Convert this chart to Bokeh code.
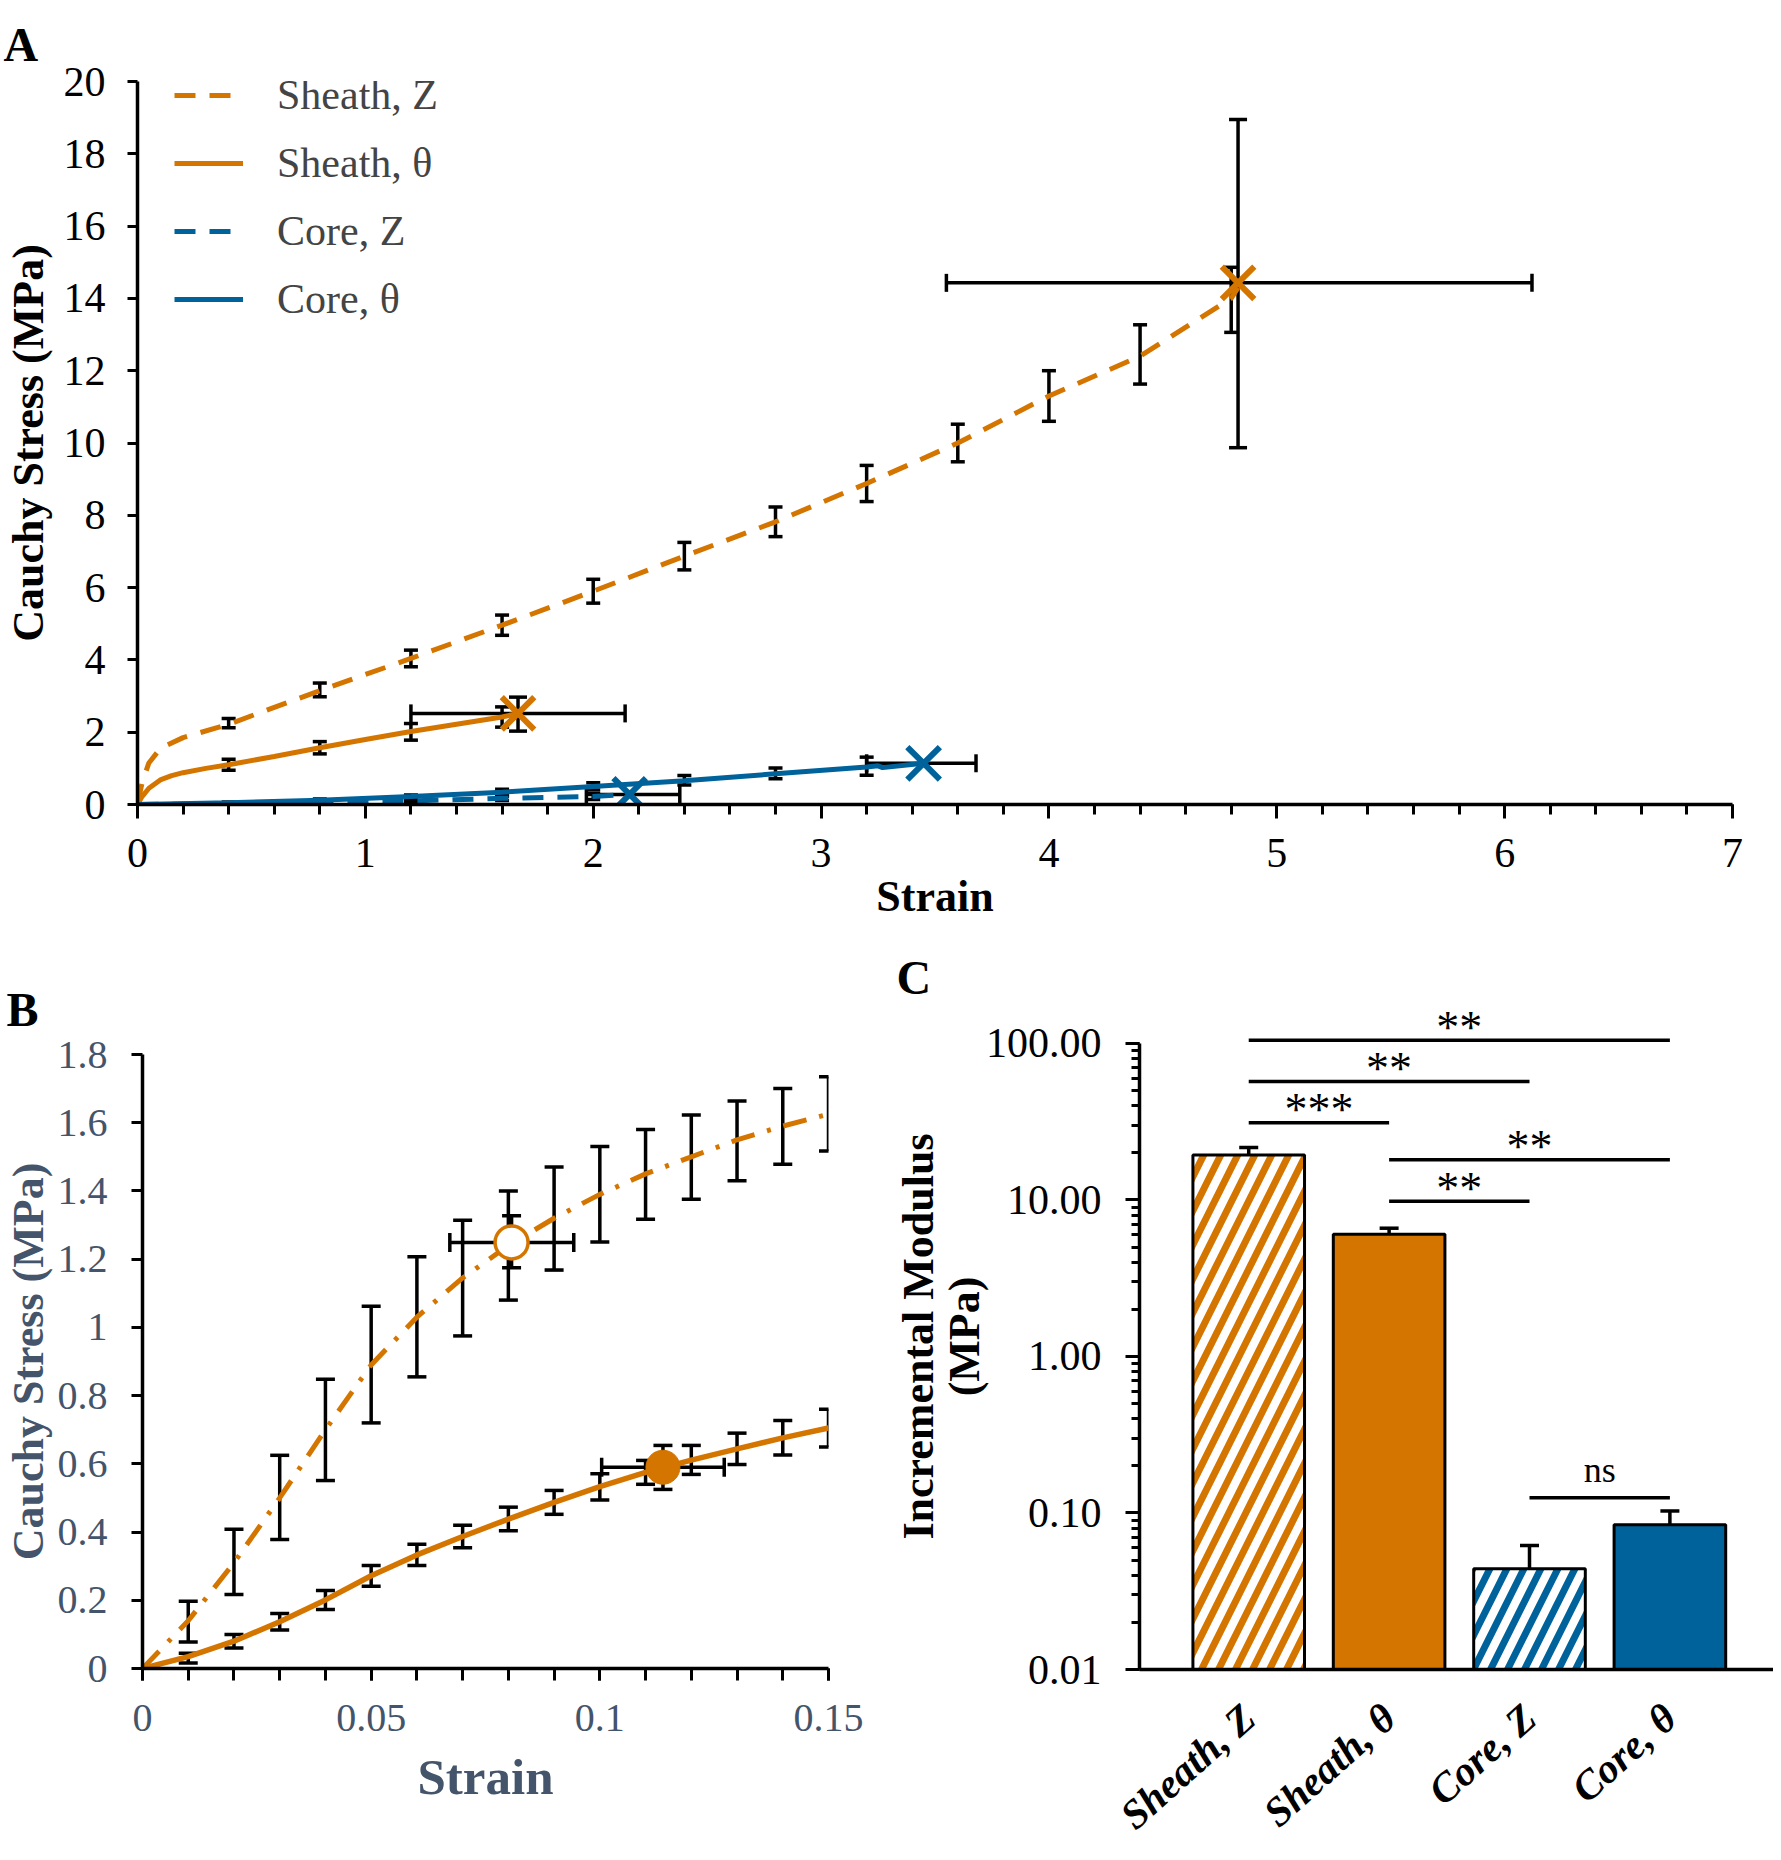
from bokeh.plotting import figure
from bokeh.models import (ColumnDataSource, Whisker, TeeHead, Legend, LegendItem, Title,
                          SingleIntervalTicker, FixedTicker, PrintfTickFormatter,
                          CustomJSTickFormatter)
from bokeh.layouts import column, row
from bokeh.embed import file_html
from bokeh.resources import INLINE
from bokeh.core.properties import value

ORANGE = "#D47500"
BLUE = "#00629B"
SLATE = "#44546A"
FONT = "Liberation Serif"

# ---------------- Panel A data ----------------
series_names = ["Sheath, Z", "Sheath, \u03b8", "Core, Z", "Core, \u03b8"]

sz_strain = [0, 0.02, 0.05, 0.1, 0.2, 0.4, 0.8, 1.2, 1.6, 2.0, 2.4, 2.8, 3.2, 3.6, 4.0, 4.4, 4.8, 4.83]
sz_stress = [0, 0.6, 1.15, 1.55, 1.85, 2.22, 3.15, 4.04, 4.96, 5.9, 6.87, 7.82, 8.88, 10.0, 11.3, 12.4, 14.0, 14.3]
sz_bar_x = [0.4, 0.8, 1.2, 1.6, 2.0, 2.4, 2.8, 3.2, 3.6, 4.0, 4.4, 4.8]
sz_bar_mean = [2.25, 3.17, 4.04, 4.96, 5.9, 6.87, 7.82, 8.88, 10.0, 11.3, 12.45, 13.96]
sz_bar_sd = [0.13, 0.19, 0.23, 0.28, 0.33, 0.38, 0.41, 0.5, 0.52, 0.7, 0.82, 0.9]
sz_end = (4.83, 14.43)
sz_end_xerr = (3.55, 6.12)
sz_end_yerr = (9.87, 18.95)

st_strain = [0, 0.02, 0.05, 0.1, 0.15, 0.2, 0.3, 0.4, 0.6, 0.8, 1.0, 1.2, 1.4, 1.6, 1.67]
st_stress = [0, 0.22, 0.45, 0.68, 0.8, 0.88, 1.0, 1.1, 1.33, 1.57, 1.8, 2.02, 2.22, 2.42, 2.52]
st_bar_x = [0.4, 0.8, 1.2, 1.6]
st_bar_mean = [1.1, 1.57, 2.01, 2.42]
st_bar_sd = [0.15, 0.17, 0.23, 0.28]
st_end = (1.67, 2.52)
st_end_xerr = (1.2, 2.14)
st_end_yerr = (2.03, 2.97)

cz_strain = [0, 0.4, 0.8, 1.2, 1.6, 2.0, 2.16]
cz_stress = [0, 0.02, 0.05, 0.1, 0.17, 0.22, 0.28]
cz_bar_x = [0.4, 0.8, 1.2, 1.6, 2.0]
cz_bar_mean = [0.02, 0.05, 0.1, 0.17, 0.22]
cz_bar_sd = [0.02, 0.03, 0.04, 0.06, 0.08]
cz_end = (2.16, 0.28)
cz_end_xerr = (1.97, 2.38)

ct_strain = [0, 0.4, 0.8, 1.2, 1.6, 2.0, 2.4, 2.8, 3.2, 3.25, 3.27, 3.45]
ct_stress = [0, 0.05, 0.12, 0.22, 0.34, 0.5, 0.66, 0.85, 1.04, 1.07, 1.02, 1.14]
ct_bar_x = [0.4, 0.8, 1.2, 1.6, 2.0, 2.4, 2.8, 3.2]
ct_bar_mean = [0.05, 0.12, 0.22, 0.34, 0.5, 0.67, 0.86, 1.06]
ct_bar_sd = [0.02, 0.03, 0.04, 0.08, 0.1, 0.13, 0.15, 0.25]
ct_end = (3.45, 1.14)
ct_end_xerr = (3.2, 3.68)

# ---------------- Panel B data ----------------
b_strain = [0, 0.01, 0.02, 0.03, 0.04, 0.05, 0.06, 0.07, 0.08, 0.09, 0.10, 0.11, 0.12, 0.13, 0.14, 0.15]
bz_mean = [0, 0.14, 0.31, 0.5, 0.7, 0.89, 1.03, 1.145, 1.24, 1.32, 1.39, 1.45, 1.50, 1.55, 1.59, 1.625]
bz_upper = [0, 0.197, 0.408, 0.625, 0.848, 1.062, 1.207, 1.314, 1.40, 1.47, 1.53, 1.58, 1.623, 1.664, 1.70, 1.735]
bz_lower = [0, 0.078, 0.217, 0.378, 0.551, 0.72, 0.855, 0.975, 1.08, 1.168, 1.25, 1.317, 1.376, 1.43, 1.478, 1.517]
bt_mean = [0, 0.035, 0.08, 0.137, 0.201, 0.272, 0.333, 0.387, 0.438, 0.487, 0.533, 0.575, 0.611, 0.644, 0.676, 0.705]
bt_upper = [0, 0.045, 0.1, 0.161, 0.229, 0.302, 0.364, 0.42, 0.473, 0.522, 0.571, 0.61, 0.654, 0.69, 0.727, 0.76]
bt_lower = [0, 0.016, 0.06, 0.113, 0.173, 0.241, 0.302, 0.354, 0.404, 0.452, 0.494, 0.54, 0.569, 0.598, 0.626, 0.649]
bz_point = (0.0807, 1.249)
bz_point_xerr = (0.0672, 0.0943)
bz_point_yerr = (1.175, 1.327)
bt_point = (0.1138, 0.590)
bt_point_xerr = (0.1004, 0.1272)
bt_point_yerr = (0.525, 0.654)

# ---------------- Panel C data ----------------
categories = ["Sheath, Z", "Sheath, \u03b8", "Core, Z", "Core, \u03b8"]
modulus = [19.4, 6.03, 0.044, 0.084]
modulus_upper = [21.6, 6.6, 0.062, 0.103]
modulus_lower = [17.4, 5.6, 0.0275, 0.0645]
sig_start = [0, 0, 0, 1, 1, 2]
sig_end = [3, 2, 1, 3, 2, 3]
sig_level = [105, 57.2, 31.1, 18.1, 9.83, 0.125]
sig_text = ["**", "**", "***", "**", "**", "ns"]

panel_letters = ["A", "B", "C"]

# ---------------- helpers ----------------
def style(p, color="black", tick_size="42px"):
    p.outline_line_color = None
    p.xgrid.visible = False
    p.ygrid.visible = False
    p.background_fill_color = "white"
    for ax in p.axis:
        ax.axis_line_width = 3.5
        ax.axis_line_color = "black"
        ax.major_tick_line_width = 3
        ax.minor_tick_line_width = 3
        ax.major_tick_line_color = "black"
        ax.minor_tick_line_color = "black"
        ax.major_tick_in = 0
        ax.minor_tick_in = 0
        ax.major_label_text_font = FONT
        ax.major_label_text_font_size = tick_size
        ax.major_label_text_color = color
        ax.axis_label_text_font = FONT
        ax.axis_label_text_font_style = "bold"
        ax.axis_label_text_color = color


def letter(p, text, offset, standoff):
    p.title = Title(text=text, align="left", offset=offset, standoff=standoff, text_font=FONT,
                    text_font_size="48px", text_font_style="bold", text_color="black")


def yerr(p, x, lo, hi, cap, width=3.5):
    src = ColumnDataSource(dict(b=list(x), lo=list(lo), hi=list(hi)))
    p.add_layout(Whisker(source=src, base="b", lower="lo", upper="hi", dimension="height",
                         line_width=width, line_color="black",
                         upper_head=TeeHead(size=cap, line_width=width, line_color="black"),
                         lower_head=TeeHead(size=cap, line_width=width, line_color="black")))


def xerr(p, y, lo, hi, cap, width=3.5):
    src = ColumnDataSource(dict(b=list(y), lo=list(lo), hi=list(hi)))
    p.add_layout(Whisker(source=src, base="b", lower="lo", upper="hi", dimension="width",
                         line_width=width, line_color="black",
                         upper_head=TeeHead(size=cap, line_width=width, line_color="black"),
                         lower_head=TeeHead(size=cap, line_width=width, line_color="black")))


def sym(mean, sd, sign):
    return [m + sign * s for m, s in zip(mean, sd)]


fmt_plain = CustomJSTickFormatter(code="return String(Math.round(tick*1000)/1000);")

# ---------------- Panel A ----------------
pA = figure(width=1773, height=923, x_range=(0, 7), y_range=(0, 20),
            output_backend="svg", toolbar_location=None, frame_align=False,
            min_border_left=136, min_border_right=41, min_border_top=81, min_border_bottom=118)
style(pA)
letter(pA, panel_letters[0], -134, 22)
pA.xaxis.ticker = SingleIntervalTicker(interval=1, num_minor_ticks=5)
pA.yaxis.ticker = SingleIntervalTicker(interval=2, num_minor_ticks=0)
pA.xaxis.major_tick_out = 14
pA.xaxis.minor_tick_out = 10
pA.yaxis.major_tick_out = 10
pA.xaxis.major_label_standoff = 20
pA.yaxis.major_label_standoff = 22
pA.xaxis.axis_label = "Strain"
pA.yaxis.axis_label = "Cauchy Stress (MPa)"
pA.xaxis.axis_label_text_font_size = "44px"
pA.yaxis.axis_label_text_font_size = "44px"
pA.xaxis.axis_label_standoff = 2
pA.yaxis.axis_label_standoff = 8

yerr(pA, sz_bar_x, sym(sz_bar_mean, sz_bar_sd, -1), sym(sz_bar_mean, sz_bar_sd, 1), 14)
yerr(pA, st_bar_x, sym(st_bar_mean, st_bar_sd, -1), sym(st_bar_mean, st_bar_sd, 1), 14)
yerr(pA, cz_bar_x, sym(cz_bar_mean, cz_bar_sd, -1), sym(cz_bar_mean, cz_bar_sd, 1), 14)
yerr(pA, ct_bar_x, sym(ct_bar_mean, ct_bar_sd, -1), sym(ct_bar_mean, ct_bar_sd, 1), 14)
yerr(pA, [sz_end[0]], [sz_end_yerr[0]], [sz_end_yerr[1]], 18)
yerr(pA, [st_end[0]], [st_end_yerr[0]], [st_end_yerr[1]], 18)
xerr(pA, [sz_end[1]], [sz_end_xerr[0]], [sz_end_xerr[1]], 18)
xerr(pA, [st_end[1]], [st_end_xerr[0]], [st_end_xerr[1]], 18)
xerr(pA, [cz_end[1]], [cz_end_xerr[0]], [cz_end_xerr[1]], 18)
xerr(pA, [ct_end[1]], [ct_end_xerr[0]], [ct_end_xerr[1]], 18)

r_sz = pA.line(sz_strain, sz_stress, line_color=ORANGE, line_width=5, line_dash="21 14")
r_st = pA.line(st_strain, st_stress, line_color=ORANGE, line_width=5)
r_cz = pA.line(cz_strain, cz_stress, line_color=BLUE, line_width=5, line_dash="21 14")
r_ct = pA.line(ct_strain, ct_stress, line_color=BLUE, line_width=5)
for pt, col in [(sz_end, ORANGE), (st_end, ORANGE), (cz_end, BLUE), (ct_end, BLUE)]:
    pA.scatter([pt[0]], [pt[1]], marker="x", size=46, line_width=6, line_color=col)

legend = Legend(items=[LegendItem(label=series_names[0], renderers=[r_sz]),
                       LegendItem(label=series_names[1], renderers=[r_st]),
                       LegendItem(label=series_names[2], renderers=[r_cz]),
                       LegendItem(label=series_names[3], renderers=[r_ct])],
                location=(37, 481), orientation="vertical",
                background_fill_alpha=0, border_line_color=None,
                label_text_font=FONT, label_text_font_size="42px",
                glyph_width=69, glyph_height=48, label_height=48, spacing=20,
                label_standoff=34, padding=0, margin=0)
pA.add_layout(legend)

# ---------------- Panel B ----------------
pB = figure(width=868, height=935, x_range=(0, 0.15), y_range=(0, 1.8),
            output_backend="svg", toolbar_location=None, frame_align=False,
            min_border_left=142, min_border_right=40, min_border_top=131, min_border_bottom=190)
style(pB, color=SLATE, tick_size="40px")
letter(pB, panel_letters[1], -136, 37)
pB.xaxis.ticker = FixedTicker(ticks=[0, 0.05, 0.1, 0.15], minor_ticks=[i / 100 for i in range(16)])
pB.yaxis.ticker = SingleIntervalTicker(interval=0.2, num_minor_ticks=0)
pB.xaxis.formatter = fmt_plain
pB.yaxis.formatter = fmt_plain
pB.xaxis.major_tick_out = 12
pB.xaxis.minor_tick_out = 12
pB.yaxis.major_tick_out = 11
pB.xaxis.major_label_standoff = 24
pB.yaxis.major_label_standoff = 24
pB.xaxis.axis_label = "Strain"
pB.yaxis.axis_label = "Cauchy Stress (MPa)"
pB.xaxis.axis_label_text_font_size = "51px"
pB.yaxis.axis_label_text_font_size = "44px"
pB.xaxis.axis_label_standoff = 15
pB.yaxis.axis_label_standoff = 2

yerr(pB, b_strain[1:], bz_lower[1:], bz_upper[1:], 19)
yerr(pB, b_strain[1:], bt_lower[1:], bt_upper[1:], 19)
yerr(pB, [bz_point[0]], [bz_point_yerr[0]], [bz_point_yerr[1]], 19)
yerr(pB, [bt_point[0]], [bt_point_yerr[0]], [bt_point_yerr[1]], 19)
xerr(pB, [bz_point[1]], [bz_point_xerr[0]], [bz_point_xerr[1]], 19)
xerr(pB, [bt_point[1]], [bt_point_xerr[0]], [bt_point_xerr[1]], 19)

pB.line(b_strain, bz_mean, line_color=ORANGE, line_width=5, line_dash="24 13 4 13")
pB.line(b_strain, bt_mean, line_color=ORANGE, line_width=5.5)
pB.scatter([bz_point[0]], [bz_point[1]], marker="circle", size=33, line_width=3.5,
           line_color=ORANGE, fill_color="white")
pB.scatter([bt_point[0]], [bt_point[1]], marker="circle", size=34, line_width=1,
           line_color=ORANGE, fill_color=ORANGE)

# ---------------- Panel C ----------------
positions = list(range(len(categories)))
pC = figure(width=905, height=935, x_range=(-0.778, 3.738), y_range=(0.01, 180),
            y_axis_type="log", output_backend="svg", toolbar_location=None, frame_align=False,
            min_border_left=271, min_border_right=0, min_border_top=80, min_border_bottom=188)
style(pC)
letter(pC, panel_letters[2], -243, 0)
pC.yaxis.formatter = PrintfTickFormatter(format="%.2f")
pC.yaxis.bounds = (0.01, 100)
pC.yaxis.major_tick_out = 14
pC.yaxis.minor_tick_out = 8
pC.yaxis.major_label_standoff = 24
pC.yaxis.axis_label = "Incremental Modulus\n(MPa)"
pC.yaxis.axis_label_text_font_size = "44px"
pC.yaxis.axis_label_text_line_height = 0.93
pC.yaxis.axis_label_standoff = -6
pC.xaxis.ticker = FixedTicker(ticks=positions)
pC.xaxis.major_label_overrides = {i: c for i, c in zip(positions, categories)}
pC.xaxis.major_tick_out = 0
pC.xaxis.minor_tick_out = 0
pC.xaxis.major_label_orientation = 0.73
pC.xaxis.major_label_standoff = 42
pC.xaxis.major_label_text_font_style = "bold italic"
pC.xaxis.major_label_text_font_size = "41px"

bar_fill = ["white", ORANGE, "white", BLUE]
bar_hatch = ["/", " ", "/", " "]
bar_hatch_color = [ORANGE, ORANGE, BLUE, BLUE]
srcC = ColumnDataSource(dict(x=positions, top=modulus, fill=bar_fill,
                             hatch=bar_hatch, hcol=bar_hatch_color))
pC.vbar(x="x", top="top", bottom=0.01, width=0.795, source=srcC,
        fill_color="fill", line_color="black", line_width=3,
        hatch_pattern="hatch", hatch_color="hcol", hatch_scale=34, hatch_weight=7)
yerr(pC, positions, modulus_lower, modulus_upper, 19)

sig_mid = [(a + b) / 2 for a, b in zip(sig_start, sig_end)]
pC.segment(x0=sig_start, y0=sig_level, x1=sig_end, y1=sig_level, line_color="black", line_width=3.5)
star_idx = [i for i, t in enumerate(sig_text) if t != "ns"]
ns_idx = [i for i, t in enumerate(sig_text) if t == "ns"]
pC.text(x=[sig_mid[i] for i in star_idx], y=[sig_level[i] for i in star_idx],
        text=[sig_text[i] for i in star_idx], text_align="center", text_baseline="alphabetic",
        y_offset=-13, text_font=value(FONT), text_font_size="46px", text_color="black")
pC.text(x=[sig_mid[i] for i in ns_idx], y=[sig_level[i] for i in ns_idx],
        text=[sig_text[i] for i in ns_idx], text_align="center", text_baseline="alphabetic",
        y_offset=-28, text_font=value(FONT), text_font_size="36px", text_color="black")

layout = column(pA, row(pB, pC))
open("out.html", "w").write(file_html(layout, INLINE))
